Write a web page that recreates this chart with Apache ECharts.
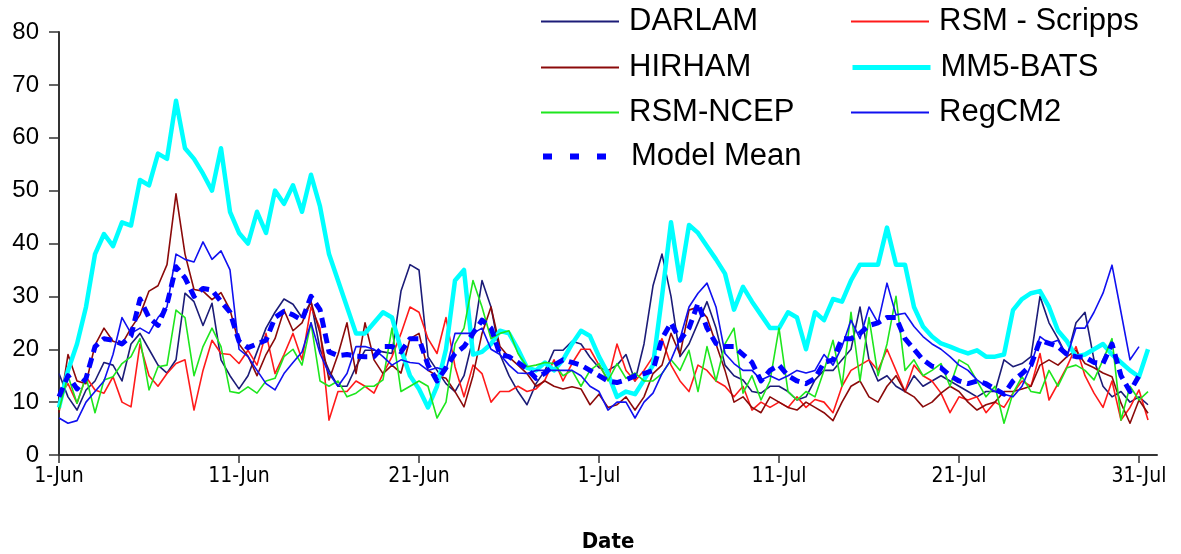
<!DOCTYPE html>
<html>
<head>
<meta charset="utf-8">
<script src="https://cdn.jsdelivr.net/npm/echarts@6/dist/echarts.min.js"></script>
<style>
html,body{margin:0;padding:0;background:#fff;}
#chart{width:1181px;height:554px;}
</style>
</head>
<body>
<div id="chart"></div>
<script>
// time step between values: half a day, starting 1-Jun (day 0)
const STEP = 0.5;
const tickDays = [0, 10, 20, 30, 40, 50, 60];
const tickLabels = ['1-Jun', '11-Jun', '21-Jun', '1-Jul', '11-Jul', '21-Jul', '31-Jul'];

const darlam = [
  15.4, 11, 8.5, 12.3, 14, 17.5, 17, 14, 21, 23,
  20, 17, 15.5, 18, 30.6, 29, 24.5, 28.7, 18, 15,
  12.5, 15, 19.5, 24, 27, 29.5, 28.5, 26, 29, 20,
  16, 13, 13, 16.7, 19.8, 19.8, 19.5, 19.2, 31, 36,
  35, 18.6, 16, 13.5, 12, 15, 22, 33, 28, 19,
  15, 12, 9.5, 13.5, 16, 19.8, 19.8, 21.5, 21, 18.5,
  16.5, 16, 17, 19, 14, 21, 32, 38, 30, 18.6,
  21, 25, 29, 24, 17, 15, 14.2, 12, 11.7, 13,
  13, 12, 10.4, 11, 14.2, 16, 16, 18, 20, 28,
  18, 14, 15, 13, 12, 15, 13, 14, 15, 14,
  13, 12, 11, 12, 12, 18, 16.7, 17.3, 18.6, 30,
  25, 22, 18.6, 25, 27, 18, 13, 11, 12, 10,
  11, 9.5
];
const rsmScripps = [
  11, 13.5, 9.8, 14.8, 12.3, 11.7, 14.8, 10, 9.1, 21,
  15, 13, 15.4, 17.3, 18, 8.5, 16, 21.7, 19.2, 19,
  17.3, 19.8, 17, 23, 15.4, 19, 23, 18, 28, 24,
  6.6, 12, 12, 14, 13, 11.7, 15.4, 18.6, 23, 28,
  27, 22, 19.2, 26, 16.7, 11, 17, 15.4, 10, 12,
  12, 13, 12, 12.5, 14.2, 18, 14, 17.3, 20, 20,
  17, 14.2, 21, 16, 14, 16, 18.6, 22, 17, 14,
  12, 17, 16, 14, 13, 11, 13, 8.5, 10, 9,
  10, 9, 11, 9, 10.5, 10, 8, 13, 16, 17,
  18, 16, 20, 16, 12, 17, 15, 14, 11.7, 8,
  11, 10.4, 11, 8, 10, 9, 11.7, 14, 13, 19.2,
  10.4, 13.5, 16.7, 20.5, 15, 11.7, 9, 14, 6.6, 9,
  12.3, 6.6
];
const hirham = [
  8, 19, 14, 13.5, 20.8, 24, 21.5, 21, 24, 26.5,
  31, 32, 36, 49.4, 38, 31.3, 31, 29.4, 30.7, 27.5,
  21, 18.7, 15, 19, 22, 27.4, 23.5, 25, 29, 23,
  14.2, 19, 25, 15.4, 25, 18, 15.4, 17, 15.5, 22,
  23, 16, 15, 14.5, 12, 9.1, 15, 23, 28, 20.5,
  18.5, 17, 15.4, 13, 14, 13, 12.5, 12.9, 12.5, 9.5,
  11.5, 9, 9.5, 11, 8.5, 11, 15.4, 17, 23, 19,
  27.4, 28, 26, 21, 16, 10, 11, 9, 8, 11,
  10, 9, 8.5, 10, 9, 8, 6.5, 10, 13, 14,
  11, 10, 13, 15, 12, 11, 9.1, 10, 11.7, 13,
  12, 10, 8.5, 9.5, 10, 12, 12, 12.5, 13, 17,
  18, 17, 18.6, 19.8, 17.3, 16.5, 15.5, 14.8, 9.8, 6,
  10.4, 7.9
];
const mm5Bats = [
  9, 16, 21, 28, 38, 41.8, 39.5, 44, 43.4, 52,
  51, 57, 56, 67, 58, 56, 53.2, 50, 58, 46,
  42, 40, 46, 42, 50, 47.5, 51, 46, 53, 47,
  38, 33, 28, 23, 23, 25, 27, 26, 20, 15,
  12.5, 9, 13, 20, 33, 35, 19, 19.5, 21, 23.5,
  23, 20, 16.5, 16, 17.5, 16, 18, 21, 23.5, 22.5,
  18.6, 15.4, 11, 12, 11.5, 14.2, 17, 30, 44, 33,
  43.5, 42, 39.5, 37, 34.3, 27.5, 31.8, 29, 26.5, 24,
  24, 27, 26, 20, 27, 25.5, 29.5, 29, 33, 36,
  36, 36, 43, 36, 36, 28, 24.3, 22.4, 21.1, 20.5,
  19.8, 19.2, 19.8, 18.6, 18.6, 19, 27.4, 29.5, 30.6, 31,
  28, 23.5, 21.5, 18.6, 19, 20, 21, 19, 17.5, 16,
  14.8, 20
];
const rsmNcep = [
  8.5, 15, 9.8, 14.8, 8, 14.2, 14.8, 17.3, 18.6, 22,
  12.3, 16.7, 17, 27.4, 26, 15, 20.5, 24, 20.5, 12,
  11.7, 12.9, 11.7, 14, 14.5, 18.6, 20, 17, 25, 14,
  13, 14, 11, 11.7, 13, 13, 14.2, 24, 12, 13,
  14, 13, 7, 10, 21, 24, 33, 28, 22, 23,
  23.5, 19.2, 16.7, 17, 17.5, 17.3, 15, 16, 13, 16,
  17.3, 14, 17.3, 14.5, 15.5, 14, 14, 15.4, 18, 16,
  19.8, 12, 20.5, 14, 21, 24, 11.7, 15, 10.4, 14,
  24, 12, 10.4, 12, 11, 16, 21.7, 13, 27, 14,
  26, 15, 21, 30, 16, 18, 15, 16, 17.3, 13,
  18, 17, 14, 11, 13, 6, 11.7, 14.8, 12, 11.7,
  16, 13, 16.5, 17, 16, 14.2, 18, 22, 6.6, 13,
  10.4, 12
];
const regcm2 = [
  7, 6, 6.5, 10, 12, 14, 19, 26, 23, 24,
  23, 26, 28, 38, 37, 36.5, 40.3, 37, 38.6, 35,
  20, 18.6, 16, 13.5, 12.3, 15.4, 17.5, 19.5, 25, 19.2,
  15.4, 13, 15.4, 20.5, 20.5, 20, 18.6, 17, 18, 17.5,
  17.3, 16, 16.5, 16, 23, 23, 23, 24, 20, 19,
  17, 15.5, 15.4, 16, 16, 16, 16, 16, 15, 13,
  12, 8.5, 10, 10, 7, 10, 11.7, 15.4, 18, 22,
  28, 30.6, 32.5, 28, 19.2, 17.3, 16, 16, 14.2, 15,
  14.2, 15, 16, 15.5, 16, 19, 17, 20.5, 25.5, 22,
  28, 25, 32.5, 26.5, 26.8, 24.3, 22.4, 21, 20, 18.6,
  17, 16, 14.2, 13, 12, 11.5, 11, 13, 17, 22.4,
  21.1, 21.7, 18.6, 24, 24, 27, 30.6, 35.9, 27, 18,
  20.5, null
];
const modelMean = [
  11, 15, 12.5, 14.5, 20.5, 22, 21.7, 21, 22.5, 29.5,
  26, 24.5, 28.5, 35.6, 33.5, 30, 31.5, 31.2, 29, 27,
  21.5, 20.3, 21, 21.7, 26, 27.2, 26.5, 25.5, 30, 27.5,
  19.5, 18.8, 19, 18.7, 18.6, 18.6, 20.5, 20.5, 19.5, 22,
  22, 17, 14, 16.5, 19.2, 20.5, 23, 25.5, 24, 19,
  18.6, 17.5, 16.3, 14.5, 15.5, 17, 18, 17.5, 17, 16,
  15, 14, 13.7, 14.2, 15, 15.4, 16, 22, 25, 21.7,
  24, 28.7, 24, 21.1, 20.5, 20.5, 19, 17.5, 14, 16,
  17, 15, 14, 13.5, 14.5, 17.5, 18, 22, 22, 23,
  24.5, 25, 26, 26, 22, 20, 18, 16.8, 16.5, 15,
  14, 13.5, 14, 13.5, 12.5, 11.5, 14, 15.4, 17, 21.7,
  21.1, 20.5, 19, 18.6, 18.5, 17.5, 17.3, 21, 15, 12,
  15, null
];

function pairs(vals) {
  const out = [];
  vals.forEach((v, i) => { if (v !== null) out.push([i * STEP, v]); });
  return out;
}

const seriesDefs = [
  {name: 'DARLAM', data: darlam, color: '#1c1c78', width: 1.6, legendWidth: 2},
  {name: 'RSM - Scripps', data: rsmScripps, color: '#ff1a1a', width: 1.6, legendWidth: 2},
  {name: 'HIRHAM', data: hirham, color: '#8b0a0a', width: 1.6, legendWidth: 2},
  {name: 'MM5-BATS', data: mm5Bats, color: '#00ffff', width: 4.5, legendWidth: 5},
  {name: 'RSM-NCEP', data: rsmNcep, color: '#1ee61e', width: 1.6, legendWidth: 2},
  {name: 'RegCM2', data: regcm2, color: '#1010f0', width: 1.6, legendWidth: 2},
  {name: 'Model Mean', data: modelMean, color: '#0000ff', width: 5, legendWidth: 6, dash: [10, 6], legendDash: [9, 18]}
];

const legendPos = {
  'DARLAM': [540, 6], 'RSM - Scripps': [850, 6],
  'HIRHAM': [540, 52], 'MM5-BATS': [850, 52],
  'RSM-NCEP': [540, 97], 'RegCM2': [850, 97],
  'Model Mean': [540, 141]
};

const SANS = "'Liberation Sans', Arial, sans-serif";
const NARROW = "'Liberation Sans Narrow', 'Arial Narrow', 'DejaVu Sans Condensed', sans-serif";

const chart = echarts.init(document.getElementById('chart'), null, {renderer: 'canvas'});
chart.setOption({
  animation: false,
  backgroundColor: '#fff',
  grid: {left: 59, right: 24, top: 32, bottom: 99, containLabel: false, outerBoundsMode: 'none'},
  legend: seriesDefs.map(s => ({
    data: [s.name],
    left: legendPos[s.name][0],
    top: legendPos[s.name][1],
    padding: 0,
    itemWidth: 78,
    itemHeight: 14,
    itemGap: 0,
    selectedMode: false,
    itemStyle: {opacity: 0},
    lineStyle: {width: s.legendWidth, color: s.color, type: s.legendDash || 'solid', cap: 'butt'},
    textStyle: {fontSize: 31, fontFamily: SANS, color: '#000', padding: [0, 0, 0, 5]}
  })),
  xAxis: {
    type: 'value',
    min: 0, max: 61, interval: 10,
    name: 'Date',
    nameLocation: 'middle',
    nameGap: 76,
    nameTextStyle: {fontSize: 22, fontWeight: 'bold', fontFamily: NARROW, color: '#000'},
    axisLine: {show: true, lineStyle: {color: '#333', width: 2}},
    axisTick: {show: true, length: 8, lineStyle: {color: '#333', width: 1.5}, customValues: tickDays},
    axisLabel: {
      customValues: tickDays,
      margin: 11,
      fontSize: 21,
      fontFamily: NARROW,
      color: '#000',
      formatter: v => tickLabels[tickDays.indexOf(Math.round(v))] || ''
    },
    splitLine: {show: false}
  },
  yAxis: {
    type: 'value',
    min: 0, max: 80, interval: 10,
    axisLine: {show: true, lineStyle: {color: '#333', width: 2}},
    axisTick: {show: true, length: 10, lineStyle: {color: '#333', width: 1.5}},
    axisLabel: {fontSize: 24, fontFamily: SANS, color: '#000', margin: 20},
    splitLine: {show: false}
  },
  series: seriesDefs.map(s => ({
    name: s.name,
    type: 'line',
    data: pairs(s.data),
    showSymbol: false,
    symbol: 'none',
    smooth: false,
    color: s.color,
    lineStyle: {color: s.color, width: s.width, type: s.dash || 'solid', cap: 'butt', join: 'round'},
    emphasis: {disabled: true}
  }))
});
</script>
</body>
</html>
